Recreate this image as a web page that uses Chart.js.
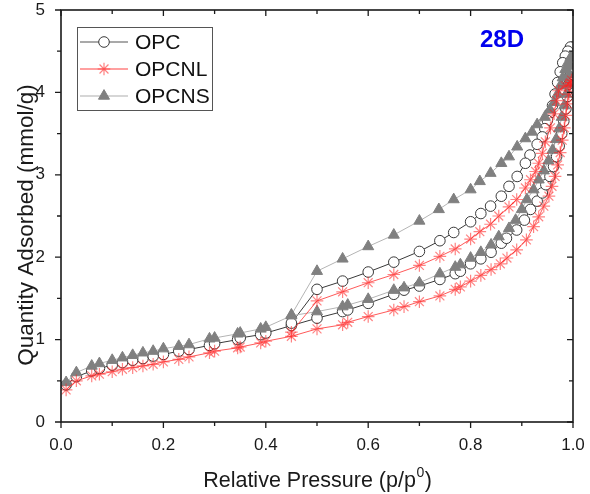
<!DOCTYPE html>
<html>
<head>
<meta charset="utf-8">
<title>Isotherms 28D</title>
<script src="https://cdn.jsdelivr.net/npm/chart.js@4/dist/chart.umd.min.js"></script>
<style>
  html, body { margin: 0; padding: 0; background: #fff; }
  canvas { display: block; }
</style>
</head>
<body>
<canvas id="iso" width="590" height="494"></canvas>
<script>
// N2 isotherms, relative pressure p/p0 vs quantity adsorbed (mmol/g)
const seriesNames = ['OPC', 'OPCNL', 'OPCNS'];
const panelLabel = '28D';
const xTicks = [0, 0.2, 0.4, 0.6, 0.8, 1.0];
const yTicks = [0, 1, 2, 3, 4, 5];

// OPC
const opcAdsP = [0.01,0.03,0.06,0.075,0.10,0.12,0.14,0.16,0.18,0.20,0.23,0.25,0.29,0.30,0.345,0.35,0.39,0.40,0.45,0.50,0.55,0.56,0.60,0.65,0.67,0.70,0.74,0.77,0.78,0.80,0.82,0.84,0.86,0.87,0.89,0.905,0.917,0.93,0.94,0.947,0.955,0.962,0.968,0.973,0.978,0.982,0.986,0.989,0.992,0.994,0.996,0.998];
const opcAdsQ = [0.45,0.55,0.62,0.65,0.69,0.72,0.75,0.77,0.80,0.82,0.86,0.88,0.93,0.95,1.00,1.02,1.06,1.08,1.17,1.26,1.34,1.36,1.44,1.55,1.60,1.65,1.73,1.80,1.83,1.92,1.98,2.06,2.17,2.23,2.33,2.45,2.58,2.68,2.78,2.88,2.98,3.10,3.22,3.35,3.50,3.65,3.80,3.95,4.10,4.25,4.40,4.55];
const opcDesP = [0.995,0.99,0.985,0.98,0.975,0.97,0.965,0.96,0.955,0.95,0.945,0.94,0.93,0.916,0.907,0.891,0.875,0.86,0.839,0.82,0.80,0.767,0.74,0.70,0.65,0.60,0.55,0.50,0.45];
const opcDesQ = [4.55,4.50,4.44,4.36,4.25,4.12,3.98,3.84,3.75,3.66,3.56,3.46,3.37,3.24,3.14,2.98,2.86,2.74,2.62,2.53,2.43,2.30,2.20,2.07,1.94,1.82,1.71,1.61,1.20];

// OPCNL
const nlAdsP = [0.01,0.03,0.06,0.075,0.10,0.12,0.14,0.16,0.18,0.20,0.23,0.25,0.29,0.30,0.345,0.35,0.39,0.40,0.45,0.50,0.55,0.56,0.60,0.65,0.67,0.70,0.74,0.77,0.78,0.80,0.82,0.84,0.858,0.871,0.89,0.909,0.923,0.933,0.943,0.953,0.959,0.965,0.97,0.975,0.979,0.983,0.986,0.989,0.992,0.995,0.997];
const nlAdsQ = [0.39,0.50,0.56,0.58,0.61,0.64,0.66,0.68,0.70,0.73,0.76,0.79,0.84,0.86,0.90,0.91,0.96,0.98,1.04,1.13,1.18,1.21,1.28,1.36,1.40,1.46,1.53,1.61,1.64,1.71,1.78,1.85,1.92,1.99,2.09,2.21,2.37,2.49,2.62,2.74,2.86,2.98,3.12,3.27,3.42,3.57,3.72,3.86,3.98,4.08,4.15];
const nlDesP = [0.995,0.985,0.972,0.968,0.963,0.956,0.946,0.94,0.933,0.927,0.917,0.907,0.89,0.875,0.855,0.839,0.818,0.80,0.77,0.74,0.70,0.65,0.60,0.55,0.50,0.45];
const nlDesQ = [4.12,4.08,4.02,3.90,3.74,3.57,3.40,3.26,3.14,3.04,2.94,2.84,2.70,2.61,2.50,2.40,2.31,2.22,2.10,2.01,1.90,1.79,1.69,1.58,1.47,1.09];

// OPCNS
const nsAdsP = [0.01,0.03,0.06,0.075,0.10,0.12,0.14,0.16,0.18,0.20,0.23,0.25,0.29,0.30,0.345,0.35,0.39,0.40,0.45,0.50,0.55,0.56,0.60,0.65,0.67,0.70,0.74,0.77,0.78,0.80,0.82,0.84,0.855,0.875,0.888,0.90,0.91,0.923,0.933,0.943,0.952,0.96,0.967,0.973,0.978,0.983,0.987,0.99,0.993,0.995,0.997];
const nsAdsQ = [0.48,0.60,0.68,0.71,0.75,0.78,0.81,0.84,0.86,0.89,0.92,0.94,1.01,1.02,1.07,1.08,1.13,1.15,1.29,1.34,1.40,1.42,1.49,1.60,1.63,1.69,1.80,1.88,1.91,1.99,2.06,2.15,2.25,2.35,2.45,2.58,2.70,2.82,2.94,3.05,3.17,3.30,3.43,3.56,3.70,3.84,3.98,4.10,4.22,4.32,4.42];
const nsDesP = [0.995,0.99,0.985,0.98,0.975,0.97,0.963,0.955,0.945,0.93,0.92,0.907,0.891,0.875,0.86,0.839,0.818,0.80,0.767,0.738,0.70,0.65,0.60,0.55,0.50,0.45];
const nsDesQ = [4.42,4.36,4.28,4.18,4.08,3.98,3.88,3.79,3.70,3.61,3.52,3.44,3.34,3.22,3.14,3.02,2.92,2.82,2.70,2.58,2.44,2.27,2.13,1.98,1.83,1.30];

// adsorption branch followed by desorption branch, one polyline per sample
function loop(aP, aQ, dP, dQ) {
  const pts = [];
  for (var i = 0; i < aP.length; i++) pts.push({x: aP[i], y: aQ[i]});
  for (var j = 0; j < dP.length; j++) pts.push({x: dP[j], y: dQ[j]});
  return pts;
}

const FONT = '"Liberation Sans", Arial, Helvetica, sans-serif';

const datasets = [
  {
    label: seriesNames[0],
    data: loop(opcAdsP, opcAdsQ, opcDesP, opcDesQ),
    showLine: true,
    borderColor: '#3a3a3a',
    borderWidth: 1,
    pointStyle: 'circle',
    pointRadius: 5.3,
    pointBackgroundColor: '#ffffff',
    pointBorderColor: '#3a3a3a',
    pointBorderWidth: 1,
    legendLine: '#8c8c8c',
    order: 2
  },
  {
    label: seriesNames[1],
    data: loop(nlAdsP, nlAdsQ, nlDesP, nlDesQ),
    showLine: true,
    borderColor: 'rgba(255,60,60,0.85)',
    borderWidth: 1,
    pointStyle: 'star',
    pointRadius: 6.3,
    pointBackgroundColor: 'rgba(255,0,0,0.5)',
    pointBorderColor: 'rgba(255,30,30,0.55)',
    pointBorderWidth: 1.2,
    legendLine: '#ff8080',
    order: 0
  },
  {
    label: seriesNames[2],
    data: loop(nsAdsP, nsAdsQ, nsDesP, nsDesQ),
    showLine: true,
    borderColor: '#b4b4b4',
    borderWidth: 1,
    pointStyle: 'triangle',
    pointRadius: 6.4,
    pointBackgroundColor: '#808080',
    pointBorderColor: '#808080',
    pointBorderWidth: 1,
    legendLine: '#c8c8c8',
    order: 1
  }
];

function marker(ctx, ds, x, y) {
  const opts = {
    pointStyle: ds.pointStyle,
    radius: ds.pointRadius,
    borderWidth: ds.pointBorderWidth,
    rotation: 0
  };
  ctx.save();
  ctx.fillStyle = ds.pointBackgroundColor;
  ctx.strokeStyle = ds.pointBorderColor;
  ctx.lineWidth = ds.pointBorderWidth;
  Chart.helpers.drawPoint(ctx, opts, x, y);
  ctx.restore();
}

// frame, mirrored ticks, axis titles, legend box and panel tag
const framePlugin = {
  id: 'frame',
  afterDraw(chart) {
    const ctx = chart.ctx;
    const a = chart.chartArea;
    const xs = chart.scales.x, ys = chart.scales.y;
    ctx.save();
    ctx.strokeStyle = '#1a1a1a';
    ctx.lineWidth = 1.6;
    ctx.strokeRect(a.left, a.top, a.right - a.left, a.bottom - a.top);

    ctx.lineWidth = 1.3;
    ctx.beginPath();
    for (var k = 0; k <= 10; k++) {
      const px = xs.getPixelForValue(k / 10);
      const len = k % 2 === 0 ? 6 : 4;
      ctx.moveTo(px, a.bottom); ctx.lineTo(px, a.bottom + len);
      ctx.moveTo(px, a.top); ctx.lineTo(px, a.top + len);
    }
    for (var m = 0; m <= 10; m++) {
      const py = ys.getPixelForValue(m / 2);
      const len = m % 2 === 0 ? 6 : 4;
      ctx.moveTo(a.left, py); ctx.lineTo(a.left - len, py);
      ctx.moveTo(a.right, py); ctx.lineTo(a.right - len, py);
    }
    ctx.stroke();

    // axis titles
    ctx.fillStyle = '#1a1a1a';
    ctx.textBaseline = 'alphabetic';
    const main = 'Relative Pressure (p/p';
    ctx.font = '21.5px ' + FONT;
    const w1 = ctx.measureText(main).width;
    ctx.font = '14px ' + FONT;
    const w2 = ctx.measureText('0').width;
    ctx.font = '21.5px ' + FONT;
    const w3 = ctx.measureText(')').width;
    var tx = 317 - (w1 + w2 + w3) / 2;
    ctx.textAlign = 'left';
    ctx.fillText(main, tx, 487);
    ctx.font = '14px ' + FONT;
    ctx.fillText('0', tx + w1 + 0.5, 477);
    ctx.font = '21.5px ' + FONT;
    ctx.fillText(')', tx + w1 + w2 + 1, 487);

    ctx.save();
    ctx.translate(33, 225);
    ctx.rotate(-Math.PI / 2);
    ctx.textAlign = 'center';
    ctx.font = '22.5px ' + FONT;
    ctx.fillText('Quantity Adsorbed (mmol/g)', 0, 0);
    ctx.restore();

    // legend
    ctx.lineWidth = 1;
    ctx.strokeStyle = '#555';
    ctx.strokeRect(77.5, 27.5, 135, 83);
    const rows = [42, 69, 96];
    ctx.font = '21px ' + FONT;
    ctx.textAlign = 'left';
    ctx.textBaseline = 'middle';
    for (var r = 0; r < 3; r++) {
      const ds = chart.data.datasets[r];
      ctx.strokeStyle = ds.legendLine;
      ctx.lineWidth = 1.3;
      ctx.beginPath();
      ctx.moveTo(80, rows[r]); ctx.lineTo(128, rows[r]);
      ctx.stroke();
      marker(ctx, ds, 104, rows[r]);
      ctx.fillStyle = '#111';
      ctx.fillText(ds.label, 135, rows[r] + 1);
    }

    // panel tag
    ctx.fillStyle = '#0000ee';
    ctx.font = 'bold 24px ' + FONT;
    ctx.textAlign = 'left';
    ctx.textBaseline = 'alphabetic';
    ctx.fillText(panelLabel, 480, 47);
    ctx.restore();
  }
};

new Chart(document.getElementById('iso'), {
  type: 'scatter',
  data: { datasets: datasets },
  options: {
    responsive: false,
    animation: false,
    events: [],
    layout: { padding: { top: 10, right: 17, left: 0, bottom: 0 } },
    plugins: {
      legend: { display: false },
      tooltip: { enabled: false }
    },
    scales: {
      x: {
        type: 'linear',
        min: 0,
        max: 1,
        afterFit(s) { s.height = 72; s.paddingLeft = 0; s.paddingRight = 0; },
        afterBuildTicks(s) { s.ticks = xTicks.map(v => ({value: v})); },
        ticks: {
          padding: 13,
          color: '#1a1a1a',
          font: { size: 17, family: FONT },
          callback: v => Number(v).toFixed(1)
        },
        grid: { display: false, drawTicks: false },
        border: { display: false }
      },
      y: {
        type: 'linear',
        min: 0,
        max: 5,
        afterFit(s) { s.width = 61; s.paddingTop = 0; s.paddingBottom = 0; },
        afterBuildTicks(s) { s.ticks = yTicks.map(v => ({value: v})); },
        ticks: {
          padding: 16,
          color: '#1a1a1a',
          font: { size: 17, family: FONT },
          callback: v => String(v)
        },
        grid: { display: false, drawTicks: false },
        border: { display: false }
      }
    }
  },
  plugins: [framePlugin]
});
</script>
</body>
</html>
